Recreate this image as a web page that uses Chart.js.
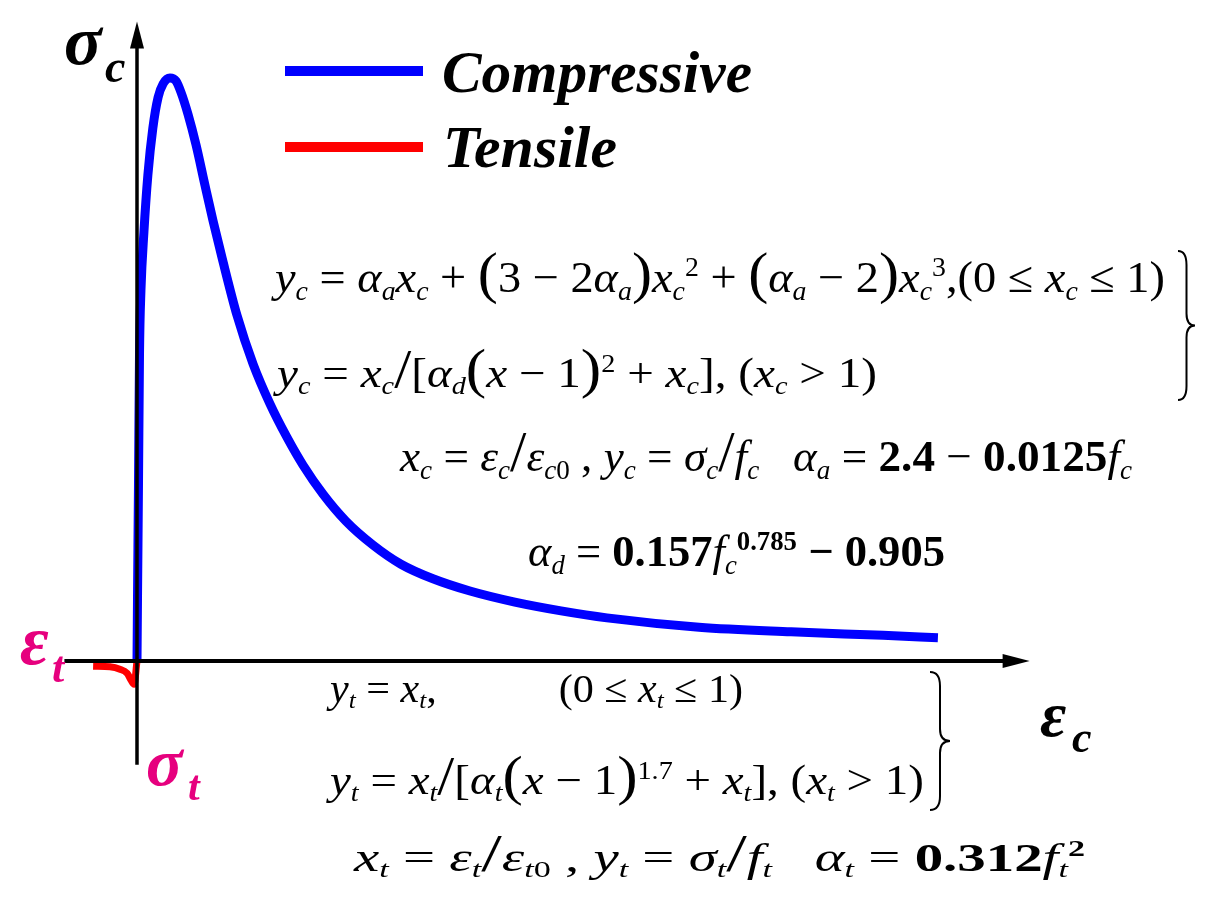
<!DOCTYPE html>
<html>
<head>
<meta charset="utf-8">
<script src="https://cdn.jsdelivr.net/npm/chart.js@4.4.0/dist/chart.umd.min.js"></script>
<style>
  body { margin: 0; background: #fff; }
  #wrap { position: relative; width: 1212px; height: 909px; overflow: hidden; }
  #grafico { position: absolute; left: 0; top: 0; }
  .txt { position: absolute; white-space: nowrap; font-family: "Liberation Serif", "Times New Roman", serif; color: #000; transform-origin: 0 0; }
  .txt i { font-style: italic; }
  .sb { font-size: 0.6em; position: relative; top: 0.28em; line-height: 0; }
  .sp { font-size: 0.6em; position: relative; top: -0.6em; line-height: 0; }
  .big { font-size: 1.3em; line-height: 0; }
  .gap { display: inline-block; width: 2.9em; }
  .lbl { font-weight: bold; font-style: italic; }
  .rosa { color: #E6007E; }
</style>
</head>
<body>
<div id="wrap"><canvas id="grafico" width="1212" height="909"></canvas></div>
<script>
// curva de compressao (x = eps/eps0, y = sigma/fc)
const compX = [0, 0.015, 0.045, 0.076, 0.12, 0.21, 0.33, 0.48, 0.64, 0.79, 1.0, 1.18, 1.33, 1.55, 1.79, 2.06, 2.30, 2.58, 3.03, 3.52, 4.03, 4.55, 5.03, 5.64, 6.33, 7.15, 8.00, 8.97, 10.09, 11.45, 12.85, 14.24, 17.03, 19.82, 22.61, 24.27];
const compY = [0, 0.105, 0.302, 0.527, 0.636, 0.736, 0.834, 0.914, 0.967, 0.990, 1.0, 0.995, 0.976, 0.937, 0.885, 0.816, 0.756, 0.691, 0.593, 0.509, 0.441, 0.383, 0.336, 0.286, 0.240, 0.199, 0.166, 0.141, 0.120, 0.101, 0.086, 0.074, 0.058, 0.050, 0.044, 0.040];

// curva de tracao
const tensX = [-1.33, -0.82, -0.52, -0.30, -0.18, -0.09, 0];
const tensY = [-0.009, -0.010, -0.014, -0.021, -0.033, -0.040, 0];

const series = ["Compressive", "Tensile"];

const pontos = (xs, ys) => xs.map((v, i) => ({ x: v, y: ys[i] }));

// desenha os eixos com setas, chaves e amostras da legenda
const eixos = {
  id: 'eixos',
  afterDatasetsDraw(chart) {
    const { ctx, scales: { x, y } } = chart;
    const x0 = x.getPixelForValue(0);
    const y0 = y.getPixelForValue(0);
    const xa = x.getPixelForValue(-2.2), xb = x.getPixelForValue(27.05);
    const ya = y.getPixelForValue(-0.178), yb = y.getPixelForValue(1.097);

    ctx.save();
    ctx.strokeStyle = '#000';
    ctx.fillStyle = '#000';
    ctx.lineWidth = 4;
    ctx.beginPath();
    ctx.moveTo(xa, y0); ctx.lineTo(xb - 20, y0);
    ctx.stroke();
    ctx.lineWidth = 3.5;
    ctx.beginPath();
    ctx.moveTo(x0, ya); ctx.lineTo(x0, yb + 20);
    ctx.stroke();

    // setas
    ctx.beginPath();
    ctx.moveTo(xb, y0); ctx.lineTo(xb - 27, y0 - 7); ctx.lineTo(xb - 27, y0 + 7); ctx.closePath();
    ctx.fill();
    ctx.beginPath();
    ctx.moveTo(x0, yb); ctx.lineTo(x0 - 7, yb + 27); ctx.lineTo(x0 + 7, yb + 27); ctx.closePath();
    ctx.fill();

    // chaves
    const chave = (xl, yt, yb2, xt) => {
      const ym = (yt + yb2) / 2, xm = (xl + xt) / 2;
      ctx.beginPath();
      ctx.moveTo(xl, yt);
      ctx.quadraticCurveTo(xm, yt, xm, yt + 14);
      ctx.lineTo(xm, ym - 12);
      ctx.quadraticCurveTo(xm, ym, xt, ym);
      ctx.quadraticCurveTo(xm, ym, xm, ym + 12);
      ctx.lineTo(xm, yb2 - 14);
      ctx.quadraticCurveTo(xm, yb2, xl, yb2);
      ctx.stroke();
    };
    ctx.lineWidth = 2;
    chave(1178, 251, 400, 1195);
    chave(930, 672, 810, 950);

    // legenda
    const ly = [71, 147];
    chart.data.datasets.forEach((ds, i) => {
      ctx.strokeStyle = ds.borderColor;
      ctx.lineWidth = 10;
      ctx.beginPath();
      ctx.moveTo(285, ly[i]); ctx.lineTo(423, ly[i]);
      ctx.stroke();
    });
    ctx.restore();
  }
};

new Chart(document.getElementById('grafico'), {
  type: 'scatter',
  data: {
    datasets: [{
      label: series[0],
      data: pontos(compX, compY),
      showLine: true,
      borderColor: '#0000FF',
      borderWidth: 9,
      pointRadius: 0,
      cubicInterpolationMode: 'monotone'
    }, {
      label: series[1],
      data: pontos(tensX, tensY),
      showLine: true,
      borderColor: '#FF0000',
      borderWidth: 7,
      pointRadius: 0,
      cubicInterpolationMode: 'monotone'
    }]
  },
  options: {
    responsive: false,
    animation: false,
    layout: { padding: 0 },
    scales: {
      x: { type: 'linear', min: -4.1515, max: 32.5758, display: false },
      y: { type: 'linear', min: -0.4254, max: 1.1338, display: false }
    },
    plugins: { legend: { display: false }, tooltip: { enabled: false } }
  },
  plugins: [eixos]
});

// textos
const v = s => `<i>${s}</i>`;
const sb = s => `<span class="sb">${s}</span>`;
const sp = s => `<span class="sp">${s}</span>`;
const big = s => `<span class="big">${s}</span>`;

const textos = [
  { html: series[0], x: 442, base: 92, size: 60, w: 310, cls: 'lbl' },
  { html: series[1], x: 443, base: 167, size: 60, w: 174, cls: 'lbl' },

  { html: 'σ', x: 64, base: 65, size: 70, cls: 'lbl' },
  { html: 'c', x: 105, base: 83, size: 46, cls: 'lbl' },
  { html: 'ε', x: 20, base: 665, size: 70, cls: 'lbl rosa' },
  { html: 't', x: 52, base: 683, size: 44, cls: 'lbl rosa' },
  { html: 'σ', x: 146, base: 785, size: 68, cls: 'lbl rosa' },
  { html: 't', x: 188, base: 800, size: 42, cls: 'lbl rosa' },
  { html: 'ε', x: 1040, base: 737, size: 64, cls: 'lbl' },
  { html: 'c', x: 1072, base: 753, size: 44, cls: 'lbl' },

  { html: `${v('y')}${sb(v('c'))} = ${v('α')}${sb(v('a'))}${v('x')}${sb(v('c'))} + ${big('(')}3 − 2${v('α')}${sb(v('a'))}${big(')')}${v('x')}${sb(v('c'))}${sp('2')} + ${big('(')}${v('α')}${sb(v('a'))} − 2${big(')')}${v('x')}${sb(v('c'))}${sp('3')},(0 ≤ ${v('x')}${sb(v('c'))} ≤ 1)`,
    x: 275, base: 293, size: 44, w: 890 },
  { html: `${v('y')}${sb(v('c'))} = ${v('x')}${sb(v('c'))}${big('/')}[${v('α')}${sb(v('d'))}${big('(')}${v('x')} − 1${big(')')}${sp('2')} + ${v('x')}${sb(v('c'))}], (${v('x')}${sb(v('c'))} &gt; 1)`,
    x: 277, base: 387, size: 42, w: 600 },
  { html: `${v('x')}${sb(v('c'))} = ${v('ε')}${sb(v('c'))}${big('/')}${v('ε')}${sb(v('c') + '0')} , ${v('y')}${sb(v('c'))} = ${v('σ')}${sb(v('c'))}${big('/')}${v('f')}${sb(v('c'))}&nbsp;&nbsp; ${v('α')}${sb(v('a'))} = <b>2.4</b> − <b>0.0125</b>${v('f')}${sb(v('c'))}`,
    x: 400, base: 472, size: 44, w: 732 },
  { html: `${v('α')}${sb(v('d'))} = <b>0.157</b>${v('f')}${sb(v('c'))}${sp('<b>0.785</b>')} <b>− 0.905</b>`,
    x: 528, base: 567, size: 44, w: 417 },
  { html: `${v('y')}${sb(v('t'))} = ${v('x')}${sb(v('t'))},<span class="gap"></span>(0 ≤ ${v('x')}${sb(v('t'))} ≤ 1)`,
    x: 330, base: 702, size: 40, w: 413 },
  { html: `${v('y')}${sb(v('t'))} = ${v('x')}${sb(v('t'))}${big('/')}[${v('α')}${sb(v('t'))}${big('(')}${v('x')} − 1${big(')')}${sp('1.7')} + ${v('x')}${sb(v('t'))}], (${v('x')}${sb(v('t'))} &gt; 1)`,
    x: 330, base: 794, size: 42, w: 594 },
  { html: `${v('x')}${sb(v('t'))} = ${v('ε')}${sb(v('t'))}${big('/')}${v('ε')}${sb(v('t') + '0')} , ${v('y')}${sb(v('t'))} = ${v('σ')}${sb(v('t'))}${big('/')}${v('f')}${sb(v('t'))}&nbsp;&nbsp; ${v('α')}${sb(v('t'))} = <b>0.312</b>${v('f')}${sb(v('t'))}${sp('<b>2</b>')}`,
    x: 354, base: 871, size: 40, w: 731 }
];

const wrap = document.getElementById('wrap');
textos.forEach(t => {
  const d = document.createElement('div');
  d.className = 'txt ' + (t.cls || '');
  d.innerHTML = t.html;
  d.style.fontSize = t.size + 'px';
  d.style.lineHeight = t.size + 'px';
  d.style.left = t.x + 'px';
  d.style.top = (t.base - 0.8375 * t.size) + 'px';
  wrap.appendChild(d);
  if (t.w) {
    const largura = d.getBoundingClientRect().width;
    d.style.transform = `scaleX(${t.w / largura})`;
  }
});
</script>
</body>
</html>
